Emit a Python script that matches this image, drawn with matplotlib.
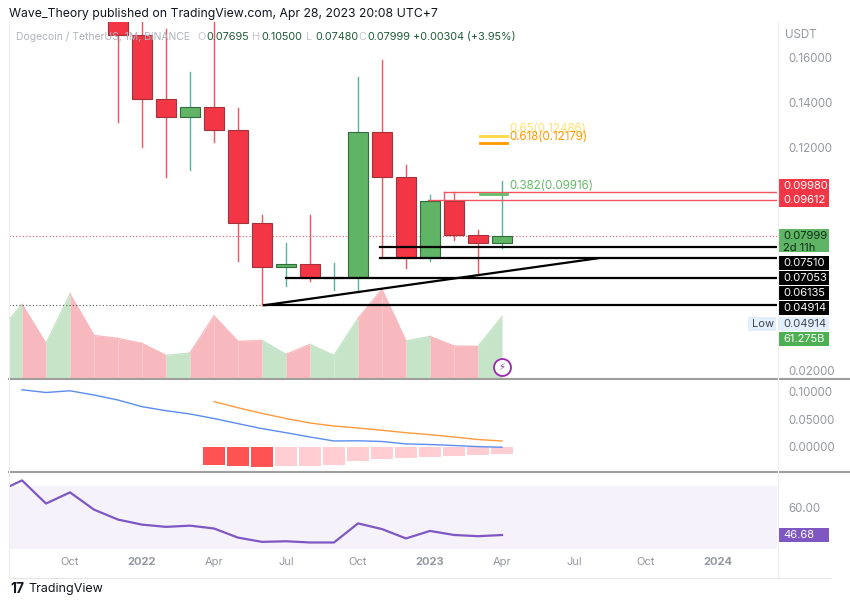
import matplotlib
matplotlib.use("Agg")
import matplotlib.pyplot as plt
from matplotlib.patches import Rectangle

W, H = 850, 604
# ---------------- data ----------------
candle_months = list(range(2, 19))   # month index, Oct 2021 = 0 (Dec 2021 .. Apr 2023)
opens  = [0.2168, 0.1702, 0.1415, 0.1334, 0.1381, 0.1275, 0.0859, 0.0663, 0.0677, 0.0615, 0.0616, 0.1267, 0.1067, 0.0702, 0.0959, 0.0807, 0.07695]
highs  = [0.2345, 0.1814, 0.1730, 0.1537, 0.1775, 0.1378, 0.0896, 0.0770, 0.0896, 0.0681, 0.1515, 0.1589, 0.1119, 0.0985, 0.0998, 0.0830, 0.10500]
lows   = [0.1312, 0.1203, 0.1067, 0.1100, 0.1224, 0.0689, 0.04914, 0.0577, 0.0600, 0.0560, 0.0551, 0.0703, 0.0659, 0.0689, 0.0782, 0.0625, 0.07480]
closes = [0.1705, 0.1415, 0.1334, 0.1381, 0.1275, 0.0859, 0.0663, 0.0677, 0.0615, 0.0616, 0.1267, 0.1067, 0.0702, 0.0959, 0.0807, 0.0770, 0.07999]

ind_months = list(range(-3, 19))     # Jul 2021 .. Apr 2023
volume_b = [45, 73.6, 34.6, 84, 42.6, 39.6, 34.6, 22.6, 25, 62, 36.6, 37.6, 23.6, 33.6, 22.6, 59.6, 88.6, 37, 41.6, 32, 31.6, 61.3]
volume_dir = ['G', 'G', 'R', 'G', 'R', 'R', 'R', 'R', 'G', 'R', 'R', 'R', 'G', 'R', 'G', 'G', 'R', 'R', 'G', 'R', 'R', 'G']
rsi = [68, 73.6, 62.2, 67.7, 59.2, 54.3, 51.8, 50.7, 51.3, 49.9, 45.4, 43.3, 43.6, 43.0, 43.0, 52.4, 49.6, 45.0, 48.7, 46.7, 46.1, 46.68]

macd_months = list(range(-2, 19))
macd_line = [0.1031, 0.0982, 0.1013, 0.0936, 0.0845, 0.0724, 0.0651, 0.0591, 0.0509, 0.0416, 0.0325, 0.0251, 0.0173, 0.0100, 0.0104, 0.0091, 0.0047, 0.0036, 0.0018, -0.0002, -0.0013]
sig_months = list(range(6, 19))
signal_line = [0.0816, 0.0705, 0.0602, 0.0509, 0.0427, 0.0373, 0.0336, 0.0295, 0.0251, 0.0215, 0.0173, 0.0127, 0.0100]
hist = [-0.0336, -0.0355, -0.0364, -0.0355, -0.0355, -0.0336, -0.0255, -0.0227, -0.0218, -0.0182, -0.0164, -0.0155, -0.0136]

fib_levels = [0.12486, 0.12179, 0.09916]
fib_labels = ["0.65(0.12486)", "0.618(0.12179)", "0.382(0.09916)"]
hlines_red = [(0.09980, 15.6), (0.09612, 14.9)]
hlines_black = [(0.07510, 12.9), (0.07053, 12.9), (0.06135, 9.0), (0.04914, 8.1)]
trend = [(8.1, 0.04914), (22.0, 0.0702)]

tick_pos = [0, 3, 6, 9, 12, 15, 18, 21, 24, 27]
tick_lab = ["Oct", "2022", "Apr", "Jul", "Oct", "2023", "Apr", "Jul", "Oct", "2024"]

# ---------------- helpers ----------------
def rect(x0, y0, x1, y1):
    return [x0 / W, 1 - y1 / H, (x1 - x0) / W, (y1 - y0) / H]

XL = ((9 - 70) / 24, (777 - 70) / 24)
GREY = "#9598a1"
RED = "#F23645"; GRN = "#5fb565"

plt.rcParams["font.family"] = "Inter"
fig = plt.figure(figsize=(8.5, 6.04), dpi=100)
fig.patch.set_facecolor("white")

def style(ax):
    ax.set_xlim(*XL)
    for s in ax.spines.values():
        s.set_visible(False)
    ax.set_xticks([])
    ax.yaxis.tick_right()
    ax.tick_params(axis='y', length=0, labelcolor=GREY, labelsize=8.3, pad=8)

# main
ax = fig.add_axes(rect(9, 22, 777, 378))
axv = ax.twinx()
style(ax)
ax.set_ylim(0.16 - (378 - 58) / 2230, 0.16 + (58 - 22) / 2230)
ax.set_yticks([0.02, 0.12, 0.14, 0.16])
ax.set_yticklabels(["0.02000", "0.12000", "0.14000", "0.16000"])

axv.set_ylim(0, 356)
axv.set_axis_off()
for i in range(1, len(ind_months)):
    c = "#c6e4c7" if volume_dir[i] == 'G' else "#f8b9be"
    axv.fill_between([ind_months[i - 1], ind_months[i]], [0, 0], [volume_b[i - 1], volume_b[i]],
                     color=c, lw=0, zorder=1)
    axv.plot([ind_months[i - 1], ind_months[i]], [volume_b[i - 1], volume_b[i]], color=c, lw=1)
ax.set_zorder(axv.get_zorder() + 1); ax.patch.set_visible(False)

bw = 0.85
for m, o, h, l, c in zip(candle_months, opens, highs, lows, closes):
    up = c >= o
    col = GRN if up else RED
    ax.plot([m, m], [l, h], color="#4db6a0" if up else "#f7525f", lw=1, zorder=3)
    ax.add_patch(Rectangle((m - bw / 2, min(o, c)), bw, max(abs(c - o), 0.0004),
                           facecolor=col, edgecolor="#2f6b3b" if up else "#a5313a", lw=0.8, zorder=4))

ax.axhline(0.07999, color="#f7525f", lw=0.8, ls=(0, (1, 2)), zorder=2)
ax.plot([XL[0], 8.1], [0.04914, 0.04914], color="#555", lw=0.8, ls=(0, (1, 2)))
for (p, x0) in hlines_red:
    ax.plot([x0, XL[1]], [p, p], color="#f7525f", lw=1, zorder=5)
ax.plot([15.6, 15.6], [0.0962, 0.0998], color="#f7525f", lw=1, zorder=5)
for (p, x0) in hlines_black:
    ax.plot([x0, XL[1]], [p, p], color="black", lw=1.6, zorder=5)
ax.plot([t[0] for t in trend], [t[1] for t in trend], color="black", lw=1.6, zorder=5)
fcol = ["#ffd740", "#ff9800", "#66bb6a"]
for p, lab, c, dy in zip(fib_levels, fib_labels, fcol, [0.0007, 0.0002, 0.0008]):
    ax.plot([17.1, 18.2], [p, p], color=c, lw=2, zorder=5)
    ax.text(18.3, p + dy, lab, color=c, fontsize=8.3, va="bottom", ha="left", alpha=0.75 if c == "#ffd740" else 1)
ax.scatter([18.0], [0.0216], s=150, facecolor="white", edgecolor="#9c27b0", lw=1.3, zorder=6)
ax.text(18.0, 0.0216, "⚡", color="#9c27b0", fontsize=7, ha="center", va="center", family="DejaVu Sans", zorder=7)

# MACD
ax2 = fig.add_axes(rect(9, 380, 777, 470))
style(ax2)
ax2.set_ylim((446.5 - 470) / 550, (446.5 - 380) / 550)
ax2.set_yticks([0.0, 0.05, 0.10])
ax2.set_yticklabels(["0.00000", "0.05000", "0.10000"])
for i, (m, v) in enumerate(zip(sig_months, hist)):
    ax2.bar(m, v, width=0.95, color="#ff5252" if i < 3 else "#ffcdd2", lw=0)
ax2.plot(macd_months, macd_line, color="#5b8def", lw=1)
ax2.plot(sig_months, signal_line, color="#ff9a3c", lw=1)

# RSI
ax3 = fig.add_axes(rect(9, 473, 777, 550))
style(ax3)
ax3.set_ylim(60 - (550 - 508) * 0.493, 60 + (508 - 473) * 0.493)
ax3.set_yticks([60]); ax3.set_yticklabels(["60.00"])
ax3.axhspan(40, 70.6, color="#f6f2fc", lw=0, zorder=0)
ax3.plot(ind_months, rsi, color="#7e57c2", lw=1.6)

# separators & frame
for y in (378.5, 472):
    fig.add_artist(plt.Line2D([9 / W, 1], [1 - y / H] * 2, color="#9e9e9e", lw=1.5))
fig.add_artist(plt.Line2D([778 / W] * 2, [1 - 22 / H, 1 - 578 / H], color="#eeeeee", lw=0.8))
fig.add_artist(plt.Line2D([9 / W, 830 / W], [1 - 578 / H] * 2, color="#e6e6e6", lw=0.8))
fig.add_artist(plt.Line2D([9 / W] * 2, [1 - 22 / H, 1 - 578 / H], color="#eeeeee", lw=0.8))

# time axis
for t, lab in zip(tick_pos, tick_lab):
    x = (70 + 24 * t) / W
    fig.text(x, 1 - 562 / H, lab, ha="center", va="center", color=GREY, fontsize=8,
             fontweight="bold" if lab.isdigit() else "normal")

# texts
fig.text(9 / W, 1 - 14 / H, "Wave_Theory published on TradingView.com, Apr 28, 2023 20:08 UTC+7",
         fontsize=8.8, color="#131722", va="center")
fig.text(16 / W, 1 - 37 / H, "Dogecoin / TetherUS, 1M, BINANCE", fontsize=7.5, color="#b2b5be", va="center")
for lab, val, x0 in [("O", "0.07695", 197), ("H", "0.10500", 252), ("L", "0.07480", 306), ("C", "0.07999", 358)]:
    fig.text(x0 / W, 1 - 37 / H, lab, fontsize=7.8, color="#c8cad0", va="center")
    fig.text((x0 + 9) / W, 1 - 37 / H, val, fontsize=7.8, color="#1e5b35", va="center")
fig.text(413 / W, 1 - 37 / H, "+0.00304 (+3.95%)", fontsize=7.8, color="#1e5b35", va="center")
fig.text(785 / W, 1 - 35 / H, "USDT", fontsize=8.3, color=GREY, va="center")

def tag(y, txt, fc, tc="white", x=779, w=50, h=14):
    fig.add_artist(Rectangle((x / W, 1 - (y + h / 2) / H), w / W, h / H, transform=fig.transFigure,
                             facecolor=fc, edgecolor="none"))
    fig.text((x + 4) / W, 1 - y / H, txt, color=tc, fontsize=8, va="center")

tag(186, "0.09980", "#f23645")
tag(200, "0.09612", "#f23645")
fig.add_artist(Rectangle((779 / W, 1 - 252 / H), 50 / W, 23 / H, transform=fig.transFigure, facecolor="#5fb565", ec="none"))
fig.text(783 / W, 1 - 236 / H, "0.07999", color="#0b2e14", fontsize=8, va="center")
fig.text(783 / W, 1 - 248 / H, "2d 11h", color="#0b2e14", fontsize=8, va="center")
for y, t in [(263, "0.07510"), (278, "0.07053"), (293, "0.06135"), (308, "0.04914")]:
    tag(y, t, "black")
tag(324, "0.04914", "#e3effd", tc="#40444f")
tag(324, "Low", "#e3effd", tc="#40444f", x=748, w=28)
tag(339, "61.275B", "#4caf50")
tag(535, "46.68", "#7e57c2")

fig.text(10 / W, 1 - 589 / H, "17", fontsize=10, fontweight="bold", color="#131722", va="center")
fig.text(28 / W, 1 - 589 / H, "TradingView", fontsize=9, color="#131722", va="center")

fig.savefig("out.png", dpi=100)
